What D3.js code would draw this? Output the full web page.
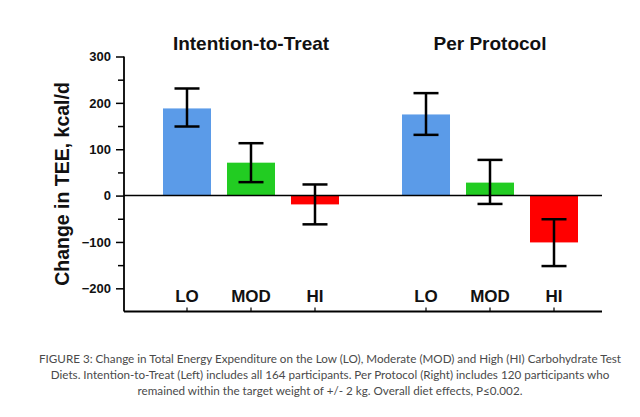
<!DOCTYPE html>
<html><head><meta charset="utf-8">
<script src="https://cdn.jsdelivr.net/npm/d3@7"></script>
<style>
body{margin:0;background:#fff;}
svg{display:block;}
</style></head>
<body>
<svg id="chart" width="640" height="417"></svg>
<script>
const groups = ["Intention-to-Treat", "Per Protocol"];
const categories = ["LO", "MOD", "HI"];
const meanITT = [188, 71, -19];
const lowITT = [149, 29, -62];
const highITT = [231, 113, 24];
const meanPP = [175, 28, -101];
const lowPP = [131, -18, -152];
const highPP = [221, 77, -51];
const yTicks = [300, 200, 100, 0, -100, -200];
const yMinorTicks = [250, 150, 50, -50, -150];
const colors = {LO: "#5b9be8", MOD: "#22cc22", HI: "#ff0000"};
const yLabel = "Change in TEE, kcal/d";
const captionLines = [
  "FIGURE 3: Change in Total Energy Expenditure on the Low (LO), Moderate (MOD) and High (HI) Carbohydrate Test",
  "Diets. Intention-to-Treat (Left) includes all 164 participants. Per Protocol (Right) includes 120 participants who",
  "remained within the target weight of +/- 2 kg. Overall diet effects, P\u22640.002."
];

const data = [];
groups.forEach((g, gi) => {
  const m = gi === 0 ? meanITT : meanPP, lo = gi === 0 ? lowITT : lowPP, hi = gi === 0 ? highITT : highPP;
  categories.forEach((c, ci) => data.push({group: g, cat: c, v: m[ci], lo: lo[ci], hi: hi[ci]}));
});

const svg = d3.select("#chart");
const axisLeft = 124, axisRight = 602;
const y = d3.scaleLinear().domain([-250, 300]).range([311.5, 56.5]);
const xOuter = d3.scaleBand().domain(groups).range([124, 617]).paddingInner(0.1967).paddingOuter(0.1297);
const xInner = d3.scaleBand().domain(categories).range([0, xOuter.bandwidth()]).paddingInner(0.25).paddingOuter(0.125);
const bold = "'Liberation Sans', Arial, sans-serif";

// bars
svg.append("g").selectAll("rect").data(data).join("rect")
  .attr("x", d => xOuter(d.group) + xInner(d.cat))
  .attr("width", xInner.bandwidth())
  .attr("y", d => y(Math.max(0, d.v)))
  .attr("height", d => Math.abs(y(d.v) - y(0)))
  .attr("fill", d => colors[d.cat]);

// zero line
svg.append("line").attr("x1", axisLeft).attr("x2", axisRight).attr("y1", y(0)).attr("y2", y(0))
  .attr("stroke", "#000").attr("stroke-width", 1.5);

// error bars
const eb = svg.append("g").attr("stroke", "#000").attr("stroke-width", 2.5);
data.forEach(d => {
  const cx = xOuter(d.group) + xInner(d.cat) + xInner.bandwidth() / 2;
  eb.append("line").attr("x1", cx).attr("x2", cx).attr("y1", y(d.lo)).attr("y2", y(d.hi));
  eb.append("line").attr("x1", cx - 12.5).attr("x2", cx + 12.5).attr("y1", y(d.lo)).attr("y2", y(d.lo));
  eb.append("line").attr("x1", cx - 12.5).attr("x2", cx + 12.5).attr("y1", y(d.hi)).attr("y2", y(d.hi));
});

// y axis
const yAxis = d3.axisLeft(y).tickValues(yTicks).tickSize(8).tickPadding(5).tickFormat(d3.format("d"));
const ga = svg.append("g").attr("transform", `translate(${axisLeft},0)`).call(yAxis);
ga.select(".domain").remove();
ga.selectAll("line").attr("stroke-width", 1.5);
ga.selectAll("text").attr("font-family", bold).attr("font-weight", "bold").attr("font-size", 13).attr("fill", "#111");
const gm = svg.append("g").attr("transform", `translate(${axisLeft},0)`)
  .call(d3.axisLeft(y).tickValues(yMinorTicks).tickSize(6).tickFormat(""));
gm.select(".domain").remove();
gm.selectAll("line").attr("stroke-width", 1.5);
svg.append("line").attr("x1", axisLeft).attr("x2", axisLeft).attr("y1", y(300)).attr("y2", y(-250))
  .attr("stroke", "#000").attr("stroke-width", 1.8);

// bottom axis
svg.append("line").attr("x1", axisLeft).attr("x2", axisRight).attr("y1", y(-250)).attr("y2", y(-250))
  .attr("stroke", "#000").attr("stroke-width", 1.8);
data.forEach(d => {
  const cx = xOuter(d.group) + xInner(d.cat) + xInner.bandwidth() / 2;
  svg.append("line").attr("x1", cx).attr("x2", cx).attr("y1", y(-250)).attr("y2", y(-250) - 4)
    .attr("stroke", "#000").attr("stroke-width", 1.2);
  svg.append("text").attr("x", cx).attr("y", 301.5).attr("text-anchor", "middle")
    .attr("font-family", bold).attr("font-weight", "bold").attr("font-size", 17).attr("fill", "#111").text(d.cat);
});

// group titles
groups.forEach(g => {
  svg.append("text").attr("x", xOuter(g) + xOuter.bandwidth() / 2).attr("y", 50).attr("text-anchor", "middle")
    .attr("font-family", bold).attr("font-weight", "bold").attr("font-size", 19).attr("fill", "#111").text(g);
});

// y label
svg.append("text").attr("transform", "translate(69,184) rotate(-90)").attr("text-anchor", "middle")
  .attr("font-family", bold).attr("font-weight", "bold").attr("font-size", 19.5).attr("fill", "#111").text(yLabel);

// caption (font size fitted so first line spans ~583px)
const capFont = "Lato, 'Open Sans', sans-serif";
const probe = svg.append("text").attr("font-family", capFont).attr("font-size", 12).text(captionLines[0]);
const capSize = Math.min(12.5, 12 * 583 / probe.node().getComputedTextLength());
probe.remove();
captionLines.forEach((t, i) => {
  svg.append("text").attr("x", 330).attr("y", 363 + i * 16).attr("text-anchor", "middle")
    .attr("font-family", capFont).attr("font-size", capSize).attr("fill", "#4a4a4a").text(t);
});
</script>
</body></html>
